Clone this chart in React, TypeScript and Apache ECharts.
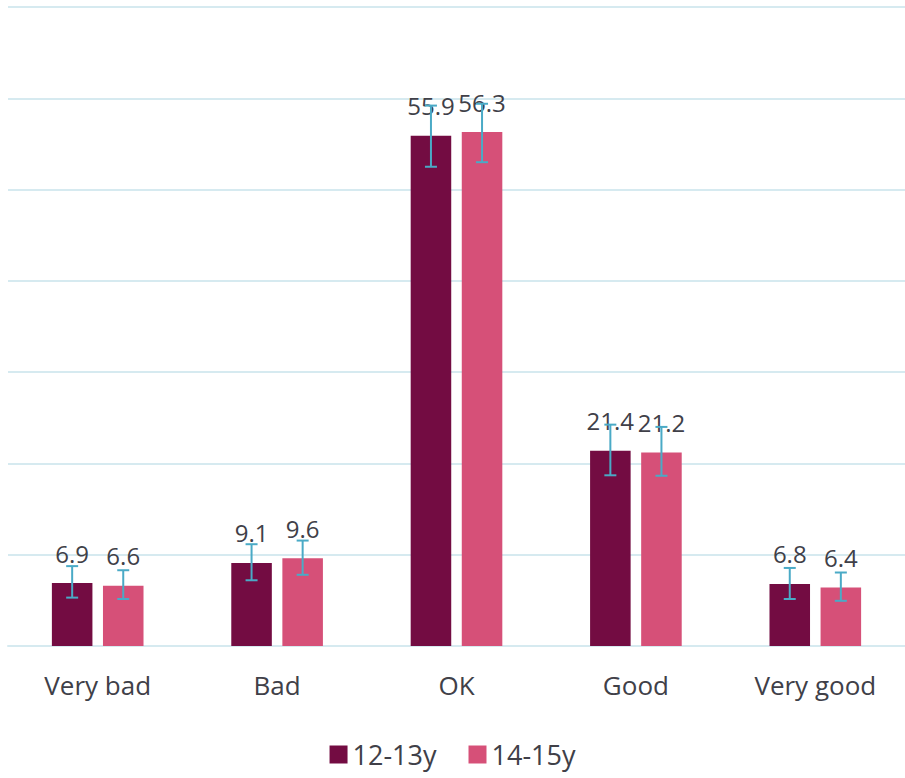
import React, { useEffect, useRef } from "react";
import * as echarts from "echarts";

const categories = ["Very bad", "Bad", "OK", "Good", "Very good"];
const seriesNames = ["12-13y", "14-15y"];
const values1213 = [6.9, 9.1, 55.9, 21.4, 6.8];
const values1415 = [6.6, 9.6, 56.3, 21.2, 6.4];
const low1213 = [5.3, 7.2, 52.5, 18.7, 5.15];
const high1213 = [8.75, 11.15, 59.2, 24.25, 8.55];
const low1415 = [5.15, 7.8, 53.0, 18.65, 4.95];
const high1415 = [8.3, 11.55, 59.4, 24.0, 8.05];

const colors = ["#730C42", "#D65078"];
const errColor = "#4AAAC6";
const gridColor = "#D6EAF0";
const textColor = "#404048";
const FONT = "'Open Sans', Lato, sans-serif";

const BAR_W = 0.226;
const BAR_GAP = 0.26;

function makeErr(lows: number[], highs: number[], side: number, name: string) {
  return {
    type: "custom",
    name: name + " err",
    z: 5,
    silent: true,
    data: categories.map((_, i) => [i, lows[i], highs[i]]),
    encode: { x: 0, y: [1, 2] },
    renderItem: (params: any, api: any) => {
      const i = api.value(0);
      const lo = api.coord([i, api.value(1)]);
      const hi = api.coord([i, api.value(2)]);
      const band = api.size([1, 0])[0];
      const bw = band * BAR_W;
      const off = (bw + bw * BAR_GAP) / 2;
      const x = lo[0] + side * off;
      const cap = 6;
      const style = { stroke: errColor, lineWidth: 2, fill: "none" };
      return {
        type: "group",
        children: [
          { type: "line", shape: { x1: x, y1: hi[1], x2: x, y2: lo[1] }, style },
          { type: "line", shape: { x1: x - cap, y1: hi[1], x2: x + cap, y2: hi[1] }, style },
          { type: "line", shape: { x1: x - cap, y1: lo[1], x2: x + cap, y2: lo[1] }, style },
        ],
      };
    },
  };
}

export default function App() {
  const ref = useRef<HTMLDivElement>(null);
  useEffect(() => {
    if (!ref.current) return;
    const chart = echarts.init(ref.current, null, { renderer: "svg" });
    const barLabel = {
      show: true,
      position: "top",
      distance: 18,
      fontSize: 24,
      fontFamily: FONT,
      color: textColor,
      formatter: (p: any) => Number(p.value).toFixed(1),
    };
    chart.setOption({
      animation: false,
      backgroundColor: "#ffffff",
      textStyle: { fontFamily: FONT },
      grid: { left: 8, right: 0, top: 7, bottom: 132, containLabel: false },
      legend: {
        bottom: 5,
        left: "center",
        icon: "rect",
        itemWidth: 18,
        itemHeight: 18,
        itemGap: 32,
        data: seriesNames,
        textStyle: { fontSize: 27, color: textColor, fontFamily: FONT },
      },
      xAxis: {
        type: "category",
        data: categories,
        axisLine: { lineStyle: { color: gridColor, width: 2 } },
        axisTick: { show: false },
        axisLabel: { fontSize: 26, color: textColor, margin: 26, fontFamily: FONT },
      },
      yAxis: {
        type: "value",
        min: 0,
        max: 70,
        interval: 10,
        axisLabel: { show: false },
        axisLine: { show: false },
        axisTick: { show: false },
        splitLine: { lineStyle: { color: gridColor, width: 2 } },
      },
      series: [
        {
          type: "bar",
          name: seriesNames[0],
          data: values1213,
          barWidth: (BAR_W * 100).toFixed(1) + "%",
          barGap: BAR_GAP * 100 + "%",
          itemStyle: { color: colors[0] },
          label: barLabel,
          z: 2,
        },
        {
          type: "bar",
          name: seriesNames[1],
          data: values1415,
          barWidth: (BAR_W * 100).toFixed(1) + "%",
          barGap: BAR_GAP * 100 + "%",
          itemStyle: { color: colors[1] },
          label: barLabel,
          z: 2,
        },
        makeErr(low1213, high1213, -1, seriesNames[0]),
        makeErr(low1415, high1415, 1, seriesNames[1]),
      ],
    });
    return () => chart.dispose();
  }, []);
  return (
    <div
      ref={ref}
      style={{ position: "fixed", left: 0, top: 0, width: 905, height: 778 }}
    />
  );
}
